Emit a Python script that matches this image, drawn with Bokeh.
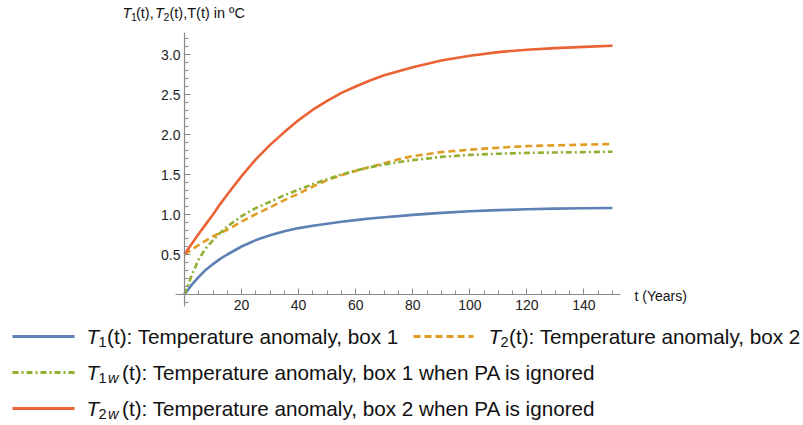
from bokeh.plotting import figure
from bokeh.models import Label, Arrow, FixedTicker, Range1d, PrintfTickFormatter
from bokeh.embed import file_html
from bokeh.resources import INLINE

# ---- data ----
t = [0, 2.5, 5, 7.5, 10, 12.5, 15, 20, 25, 30, 35, 40, 45, 50, 55, 60, 65,
     70, 75, 80, 90, 100, 110, 120, 130, 140, 150]
T1 = [0.0, 0.12, 0.22, 0.31, 0.38, 0.445, 0.50, 0.60, 0.68, 0.74, 0.79, 0.83,
      0.86, 0.885, 0.91, 0.93, 0.95, 0.965, 0.98, 0.995, 1.02, 1.04, 1.055,
      1.065, 1.073, 1.078, 1.082]
T2 = [0.50, 0.56, 0.62, 0.675, 0.725, 0.77, 0.81, 0.91, 1.005, 1.09, 1.18,
      1.26, 1.35, 1.43, 1.49, 1.545, 1.595, 1.64, 1.69, 1.73, 1.78, 1.81,
      1.835, 1.855, 1.865, 1.873, 1.88]
T1w = [0.0, 0.24, 0.44, 0.58, 0.68, 0.77, 0.85, 0.98, 1.08, 1.16, 1.24, 1.31,
       1.38, 1.44, 1.50, 1.55, 1.59, 1.625, 1.655, 1.68, 1.72, 1.745, 1.76,
       1.77, 1.775, 1.78, 1.785]
T2w = [0.50, 0.63, 0.76, 0.88, 1.00, 1.13, 1.25, 1.48, 1.69, 1.87, 2.03, 2.18,
       2.31, 2.42, 2.52, 2.60, 2.675, 2.74, 2.79, 2.84, 2.925, 2.985, 3.03,
       3.06, 3.08, 3.095, 3.11]

x_major = [20, 40, 60, 80, 100, 120, 140]
x_minor = [5, 10, 15, 25, 30, 35, 45, 50, 55, 65, 70, 75, 85, 90, 95, 105,
           110, 115, 125, 130, 135, 145, 150]
y_major = [0.5, 1.0, 1.5, 2.0, 2.5, 3.0]
y_minor = [-0.1, 0.1, 0.2, 0.3, 0.4, 0.6, 0.7, 0.8, 0.9, 1.1, 1.2, 1.3, 1.4,
           1.6, 1.7, 1.8, 1.9, 2.1, 2.2, 2.3, 2.4, 2.6, 2.7, 2.8, 2.9, 3.1, 3.2]

BLUE, ORANGE, GREEN, RED = "#5E81B5", "#E19C24", "#8FB032", "#EB6235"
FONT = "Liberation Sans"

# ---- layout: the frame covers the whole canvas; axes are drawn inside ----
W, H = 803, 425
AX_L, AX_T, AX_R, AX_B = 175, 32, 620, 306      # pixel box of the axes
X0, X1 = -3.15, 152.8                            # axis extents (data)
Y0, Y1 = -0.15, 3.275
KX = (AX_R - AX_L) / (X1 - X0)
KY = (AX_B - AX_T) / (Y1 - Y0)
XA, XB = X0 - AX_L / KX, X1 + (W - AX_R) / KX
YA, YB = Y0 - (H - AX_B) / KY, Y1 + AX_T / KY


def dx(sx):
    return XA + sx / KX


def dy(sy):
    return YB - sy / KY


p = figure(width=W, height=H, output_backend="svg", toolbar_location=None,
           x_range=Range1d(XA, XB), y_range=Range1d(YA, YB),
           min_border=0)
p.outline_line_color = None
p.xgrid.visible = False
p.ygrid.visible = False
p.background_fill_color = "white"
p.border_fill_color = "white"

for ax, maj, mnr, bnd in ((p.xaxis[0], x_major, x_minor, (X0, X1)),
                          (p.yaxis[0], y_major, y_minor, (Y0, Y1))):
    ax.fixed_location = 0
    ax.bounds = bnd
    ax.ticker = FixedTicker(ticks=maj, minor_ticks=mnr)
    ax.axis_line_color = "#8a8a8a"
    ax.axis_line_width = 1.2
    ax.major_tick_line_color = "#8a8a8a"
    ax.minor_tick_line_color = "#8a8a8a"
    ax.major_tick_in = 6
    ax.major_tick_out = 0
    ax.minor_tick_in = 4
    ax.minor_tick_out = 0
    ax.major_label_text_font = FONT
    ax.major_label_text_font_size = "14px"
    ax.major_label_text_color = "#222222"
p.xaxis[0].major_label_standoff = 5
p.yaxis[0].major_label_standoff = 4
p.yaxis[0].formatter = PrintfTickFormatter(format="%.1f")

p.line(t, T1, line_color=BLUE, line_width=2.6)
p.line(t, T2, line_color=ORANGE, line_width=2.6, line_dash="7 4")
p.line(t, T1w, line_color=GREEN, line_width=2.6, line_dash="6 3 2 3")
p.line(t, T2w, line_color=RED, line_width=2.6)


def txt(sx, sy, s, size, italic=False):
    p.add_layout(Label(x=dx(sx), y=dy(sy), text=s, text_font=FONT,
                       text_font_size=f"{size}px", text_color="#111111",
                       text_font_style="italic" if italic else "normal",
                       text_baseline="middle", text_align="left"))


# y axis title (y = vertical centre of the capitals)
TC = 12.5
txt(122, TC, "T", 14.5, True)
txt(130.5, TC + 4, "1", 10.5)
txt(135.5, TC, "(t),", 14.5)
txt(154.5, TC, "T", 14.5, True)
txt(163, TC + 4, "2", 10.5)
txt(169, TC, "(t),T(t) in ºC", 14.5)

# x axis title
txt(634, 295.5, "t (Years)", 14)


def seg(sx0, sx1, sy, color, dash="solid"):
    p.add_layout(Arrow(x_start=dx(sx0), y_start=dy(sy), x_end=dx(sx1), y_end=dy(sy),
                       start=None, end=None, line_color=color, line_width=3,
                       line_dash=dash))


FS = 20.7
SS = 14.5
SUB = 5
# legend row 1
r1 = 336
seg(12, 74, r1, BLUE)
txt(86, r1, "T", FS, True)
txt(98, r1 + SUB, "1", SS)
txt(106.5, r1, "(t): Temperature anomaly, box 1", FS)
seg(413, 473, r1, ORANGE, "7 4")
txt(488, r1, "T", FS, True)
txt(500, r1 + SUB, "2", SS)
txt(508.5, r1, "(t): Temperature anomaly, box 2", FS)
# legend row 2
r2 = 372
seg(12, 74, r2, GREEN, "6 3 2 3")
txt(86, r2, "T", FS, True)
txt(98, r2 + SUB, "1", SS)
txt(107.5, r2 + SUB, "w", SS, True)
txt(121.5, r2, "(t): Temperature anomaly, box 1 when PA is ignored", FS)
# legend row 3
r3 = 408
seg(12, 74, r3, RED)
txt(86, r3, "T", FS, True)
txt(98, r3 + SUB, "2", SS)
txt(107.5, r3 + SUB, "w", SS, True)
txt(121.5, r3, "(t): Temperature anomaly, box 2 when PA is ignored", FS)

open("out.html", "w").write(file_html(p, INLINE))
